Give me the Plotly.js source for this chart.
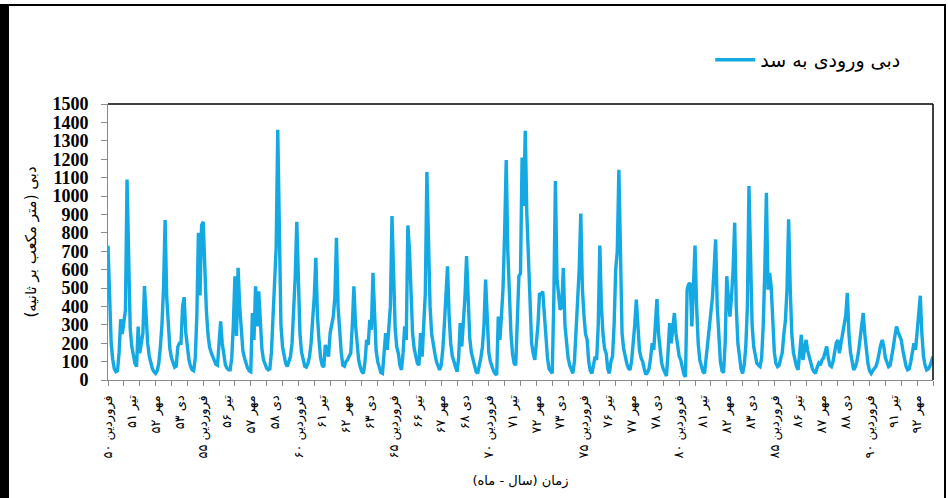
<!DOCTYPE html>
<html>
<head>
<meta charset="utf-8">
<script src="https://cdn.plot.ly/plotly-3.0.1.min.js"></script>
<style>
html,body{margin:0;padding:0;background:#fff;overflow:hidden;width:948px;height:498px;}
#chart{position:absolute;left:0;top:0;width:948px;height:498px;}
#frame{position:absolute;left:0;top:4px;width:946px;height:520px;box-sizing:border-box;border-left:9px solid #000;border-top:2px solid #000;border-right:2px solid #000;pointer-events:none;}
</style>
</head>
<body>
<div id="chart"></div>
<div id="frame"></div>
<script>
// Monthly inflow (m3/s), one row per Persian year starting Farvardin
const flow1350s = [
  730, 420, 200, 110, 60, 45, 50, 150, 330, 250, 320, 380,
  1090, 585, 280, 180, 125, 90, 73, 290, 145, 210, 255, 510,
  330, 200, 130, 90, 60, 45, 36, 50, 90, 180, 300, 500,
  870, 450, 280, 170, 120, 90, 70, 75, 180, 200, 200, 400,
  450, 260, 160, 110, 75, 55, 50, 120, 350, 800, 460, 840,
  860, 600, 380, 250, 180, 150, 130, 100, 85, 80, 200, 318,
  200, 120, 82, 65, 55, 55, 120, 300, 564, 240, 610, 400,
  250, 160, 120, 90, 65, 50, 45, 364, 218, 509, 291, 482,
  300, 170, 110, 80, 65, 55, 60, 150, 350, 560, 720, 1360,
  700, 300, 180, 127, 90, 73, 100, 127, 200, 350, 560, 860
];
const flow1360s = [
  450, 250, 150, 100, 75, 70, 90, 127, 200, 330, 450, 664,
  350, 218, 120, 80, 70, 191, 150, 127, 255, 300, 345, 450,
  773, 400, 255, 150, 80, 75, 100, 110, 130, 145, 300, 509,
  300, 170, 109, 70, 45, 36, 100, 218, 191, 327, 273, 582,
  300, 160, 100, 60, 40, 36, 150, 255, 164, 309, 400, 891,
  500, 280, 180, 145, 80, 55, 150, 291, 218, 840, 709, 400,
  250, 170, 120, 91, 80, 255, 127, 300, 470, 1131, 655, 400,
  250, 180, 145, 100, 70, 55, 80, 164, 300, 450, 618, 350,
  200, 130, 100, 60, 45, 120, 309, 182, 300, 450, 673, 400,
  230, 150, 109, 70, 45, 36, 70, 120, 180, 300, 546, 300
];
const flow1370s = [
  150, 100, 73, 50, 35, 27, 345, 218, 350, 500, 800, 1195,
  700, 437, 250, 140, 91, 80, 400, 564, 580, 1209, 946, 1355,
  900, 637, 350, 200, 145, 109, 200, 300, 473, 460, 482, 350,
  255, 120, 60, 45, 36, 437, 1082, 550, 437, 382, 400, 609,
  300, 182, 120, 80, 50, 36, 100, 255, 400, 600, 905, 500,
  350, 250, 218, 100, 50, 36, 80, 127, 109, 300, 731, 400,
  250, 170, 145, 60, 36, 100, 127, 300, 600, 700, 1142, 550,
  255, 170, 120, 90, 65, 55, 100, 182, 300, 437, 250, 160,
  120, 100, 60, 30, 40, 60, 120, 200, 164, 300, 440, 250,
  150, 91, 60, 35, 22, 150, 309, 200, 280, 364, 250, 180
];
const flow1380s = [
  130, 109, 60, 30, 18, 491, 520, 527, 291, 500, 731, 400,
  200, 109, 70, 45, 36, 120, 164, 250, 327, 450, 600, 764,
  400, 200, 100, 50, 40, 200, 564, 450, 345, 450, 600, 855,
  400, 200, 110, 60, 36, 80, 182, 400, 1054, 600, 300, 180,
  120, 91, 80, 73, 120, 300, 600, 1018, 491, 582, 509, 300,
  150, 90, 73, 80, 109, 150, 250, 327, 500, 873, 500, 250,
  150, 100, 73, 55, 150, 246, 109, 180, 218, 160, 120, 91,
  60, 45, 36, 70, 91, 80, 109, 120, 150, 182, 120, 80,
  73, 100, 150, 200, 218, 145, 200, 250, 291, 350, 473, 250,
  150, 90, 55, 70, 100, 150, 220, 300, 364, 250, 150, 90
];
const flow1390s = [
  50, 36, 50, 60, 73, 100, 150, 190, 218, 180, 120, 90,
  73, 80, 120, 180, 240, 291, 260, 240, 218, 160, 110, 75,
  55, 60, 100, 150, 200, 164, 250, 350, 458, 250, 130, 80,
  55, 60, 75, 100, 127
];

const tickMonths = [0,15,30,45,60,75,90,105,120,135,150,165,180,195,210,225,240,255,270,285,300,315,330,345,360,375,390,405,420,435,450,465,480,495,510];
const tickLabels = [
  'فروردین ۵۰','تیر ۵۱','مهر ۵۲','دی ۵۳',
  'فروردین ۵۵','تیر ۵۶','مهر ۵۷','دی ۵۸',
  'فروردین ۶۰','تیر ۶۱','مهر ۶۲','دی ۶۳',
  'فروردین ۶۵','تیر ۶۶','مهر ۶۷','دی ۶۸',
  'فروردین ۷۰','تیر ۷۱','مهر ۷۲','دی ۷۳',
  'فروردین ۷۵','تیر ۷۶','مهر ۷۷','دی ۷۸',
  'فروردین ۸۰','تیر ۸۱','مهر ۸۲','دی ۸۳',
  'فروردین ۸۵','تیر ۸۶','مهر ۸۷','دی ۸۸',
  'فروردین ۹۰','تیر ۹۱','مهر ۹۲'
];
const seriesName = 'دبی ورودی به سد';
const yTitle = 'دبی (متر مکعب بر ثانیه)\u200F';
const xTitle = 'زمان (سال - ماه)\u200F';

const flow = [].concat(flow1350s, flow1360s, flow1370s, flow1380s, flow1390s);
const months = flow.map((_, i) => i);

const arabicFont = 'DejaVu Sans, Noto Sans, sans-serif';

const trace = {
  x: months,
  y: flow,
  type: 'scatter',
  mode: 'lines',
  name: seriesName,
  line: {color: '#14a9e3', width: 3.4, shape: 'linear'},
  showlegend: true
};

const layout = {
  width: 948,
  height: 498,
  margin: {l: 108, r: 15, t: 104, b: 118},
  paper_bgcolor: '#fff',
  plot_bgcolor: '#fff',
  showlegend: true,
  legend: {
    x: 0.73, y: 1.16, xanchor: 'left', yanchor: 'middle',
    font: {family: arabicFont, size: 19, color: '#000'},
    bgcolor: 'rgba(0,0,0,0)',
    itemwidth: 40
  },
  xaxis: {
    range: [0, 520],
    tickmode: 'array',
    tickvals: tickMonths,
    ticktext: tickLabels,
    tickangle: -90,
    ticks: '',
    ticklabelstandoff: 9,
    tickfont: {family: arabicFont, size: 13, color: '#000'},
    showgrid: false,
    zeroline: false,
    showline: true,
    linecolor: '#8a8a8a',
    linewidth: 1,
    minor: {tickmode: 'linear', tick0: 0, dtick: 10, ticks: 'outside', ticklen: 5, tickcolor: '#8a8a8a', showgrid: false},
    title: {text: xTitle, font: {family: arabicFont, size: 13, color: '#000'}, standoff: 18}
  },
  yaxis: {
    range: [0, 1500],
    dtick: 100,
    tick0: 0,
    ticks: 'outside',
    ticklen: 6,
    tickcolor: '#8a8a8a',
    ticklabelstandoff: 9,
    tickfont: {family: 'Liberation Serif, serif', size: 18, color: '#000', weight: 'bold'},
    showgrid: false,
    zeroline: false,
    showline: true,
    linecolor: '#8a8a8a',
    linewidth: 1,
    title: {text: yTitle, font: {family: arabicFont, size: 15, color: '#000'}, standoff: 12}
  },
  shapes: [
    {type: 'line', xref: 'paper', yref: 'paper', x0: 0, x1: 1, y0: 1, y1: 1, line: {color: '#000', width: 1.5}},
    {type: 'line', xref: 'paper', yref: 'paper', x0: 1, x1: 1, y0: 0, y1: 1, line: {color: '#000', width: 1.5}}
  ]
};

Plotly.newPlot('chart', [trace], layout, {staticPlot: true, displayModeBar: false});
</script>
</body>
</html>
